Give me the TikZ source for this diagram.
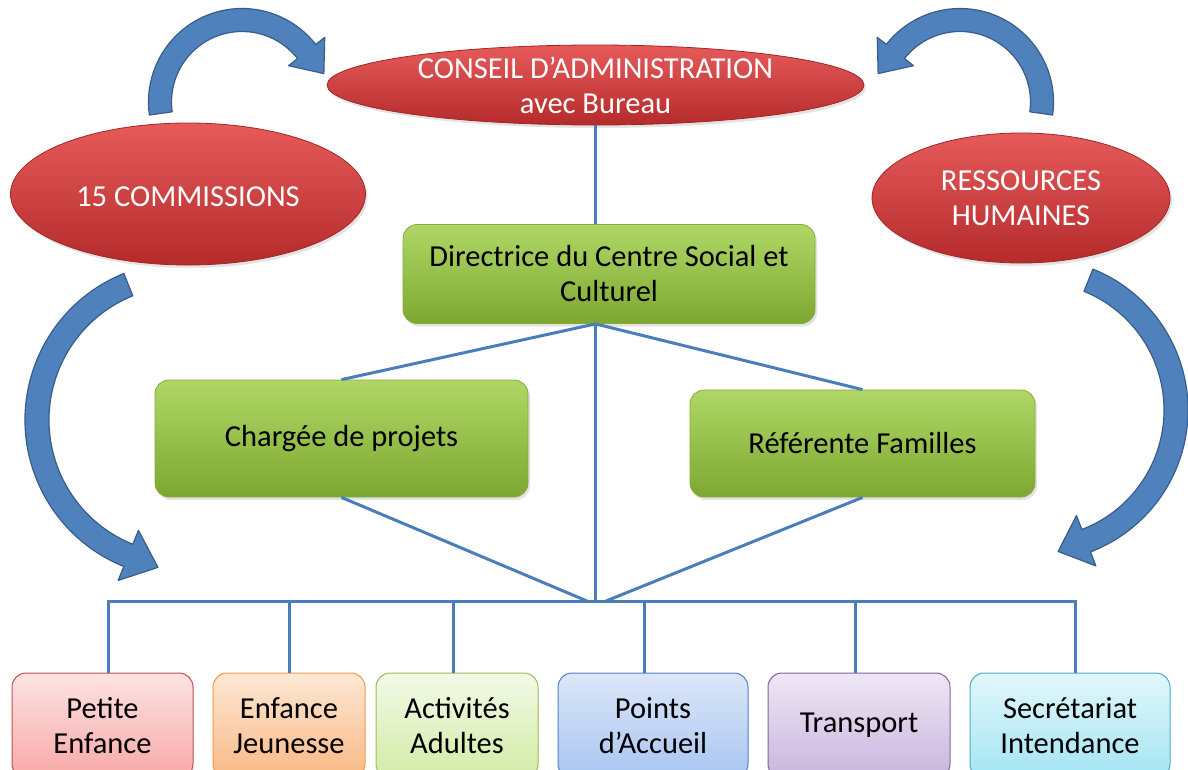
\documentclass[tikz,border=0pt]{standalone}
\usepackage{fontspec}
\setmainfont{Carlito}
\usetikzlibrary{shapes.geometric,shadows}
\definecolor{arrowblue}{HTML}{4F81BD}
\definecolor{arrowedge}{HTML}{385D8A}
\definecolor{linkblue}{HTML}{4A7EBB}
\definecolor{redtop}{HTML}{E65A5A}
\definecolor{redbot}{HTML}{B52B2B}
\definecolor{rededge}{HTML}{A52525}
\definecolor{greentop}{HTML}{B0D766}
\definecolor{greenbot}{HTML}{7DA830}
\definecolor{greenedge}{HTML}{86A93C}
\definecolor{pinktop}{HTML}{FDE3E3}\definecolor{pinkbot}{HTML}{F8A8A8}\definecolor{pinkedge}{HTML}{C0504D}
\definecolor{orgtop}{HTML}{FDE8D6}\definecolor{orgbot}{HTML}{F9B884}\definecolor{orgedge}{HTML}{F79646}
\definecolor{lgtop}{HTML}{F3FAE7}\definecolor{lgbot}{HTML}{D3EBA6}\definecolor{lgedge}{HTML}{9BBB59}
\definecolor{bltop}{HTML}{DCE7F9}\definecolor{blbot}{HTML}{A9C5F1}\definecolor{bledge}{HTML}{4F81BD}
\definecolor{pptop}{HTML}{EEE7F5}\definecolor{ppbot}{HTML}{C9B5DD}\definecolor{ppedge}{HTML}{8064A2}
\definecolor{cytop}{HTML}{E2F7FB}\definecolor{cybot}{HTML}{A3E5F3}\definecolor{cyedge}{HTML}{4BACC6}
\tikzset{
  softshadow/.style={drop shadow={opacity=0.22, shadow xshift=2pt, shadow yshift=-3pt}},
  bigfont/.style={font=\fontsize{30.5}{35}\selectfont},
  redell/.style={ellipse, draw=rededge, line width=0.8pt, top color=redtop, bottom color=redbot, inner sep=0pt, softshadow},
  whitetext/.style={text=white, align=center, bigfont, inner sep=0pt},
  greenbox/.style={rectangle, rounded corners=14, draw=greenedge, line width=0.8pt, top color=greentop, bottom color=greenbot, align=center, bigfont, inner sep=0pt, softshadow},
  unitbox/.style={rectangle, rounded corners=14, line width=1pt, align=center, bigfont, inner sep=0pt, minimum height=105},
  link/.style={draw=linkblue, line width=3pt},
  bendfill/.style={fill=arrowblue, draw=arrowedge, line width=1.2pt, line join=round}
}
% curved block arrow: cx, cy, r, half band, start angle, end angle, head half width, head length
\newcommand\bendarrow[8]{%
  \pgfmathsetmacro\ArO{#3+#4}%
  \pgfmathsetmacro\ArI{#3-#4}%
  \pgfmathsetmacro\ArHo{#3+#7}%
  \pgfmathsetmacro\ArHi{#3-#7}%
  \pgfmathsetmacro\ArSg{ifthenelse(#6>#5,1,-1)}%
  \pgfmathsetmacro\ArTx{#1+#3*cos(#6)-\ArSg*#8*sin(#6)}%
  \pgfmathsetmacro\ArTy{#2+#3*sin(#6)+\ArSg*#8*cos(#6)}%
  \path[bendfill] ([shift={(#5:\ArO)}]#1,#2) arc[start angle=#5, end angle=#6, radius=\ArO]
    -- ([shift={(#6:\ArHo)}]#1,#2) -- (\ArTx,\ArTy) -- ([shift={(#6:\ArHi)}]#1,#2)
    -- ([shift={(#6:\ArI)}]#1,#2) arc[start angle=#6, end angle=#5, radius=\ArI] -- cycle;%
}
\begin{document}
\begin{tikzpicture}[x=1pt,y=-1pt]
\useasboundingbox (0,0) rectangle (1188,769);
\clip (0,0) rectangle (1188,769);

% curved arrows
\bendarrow{242}{102}{82}{11.5}{172}{322}{23}{28}
\bendarrow{960}{102}{82}{11.5}{8}{-142}{23}{28}
\bendarrow{183}{420}{146}{12}{248}{112}{27}{32}
\bendarrow{1036}{410}{140}{12}{292}{429}{27}{30}

% ellipses
\node[redell, minimum width=537, minimum height=80] (ca) at (595.5,85) {};
\node[whitetext] (catext) at (ca) {CONSEIL D’ADMINISTRATION\\avec Bureau};
\node[redell, minimum width=355, minimum height=142] (com) at (188,194) {};
\node[whitetext] (comtext) at ([yshift=-3pt]com.center) {15 COMMISSIONS};
\node[redell, minimum width=298, minimum height=130] (rh) at (1021,198) {};
\node[whitetext] (rhtext) at (rh) {RESSOURCES\\HUMAINES};

% green boxes
\node[greenbox, minimum width=412, minimum height=99] (dir) at (609,274) {Directrice du Centre Social et\\Culturel};
\node[greenbox, minimum width=373, minimum height=117] (cp) at (341.5,438.5) {Chargée de projets};
\node[greenbox, minimum width=345, minimum height=107] (rf) at (862.5,443.5) {Référente Familles};

% bottom boxes
\node[unitbox, draw=pinkedge, top color=pinktop, bottom color=pinkbot, minimum width=181] (pe) at (102.5,725.5) {Petite\\Enfance};
\node[unitbox, draw=orgedge, top color=orgtop, bottom color=orgbot, minimum width=152] (ej) at (289,725.5) {Enfance\\Jeunesse};
\node[unitbox, draw=lgedge, top color=lgtop, bottom color=lgbot, minimum width=162] (aa) at (457,725.5) {Activités\\Adultes};
\node[unitbox, draw=bledge, top color=bltop, bottom color=blbot, minimum width=190] (pa) at (653,725.5) {Points\\d’Accueil};
\node[unitbox, draw=ppedge, top color=pptop, bottom color=ppbot, minimum width=182] (tr) at (859,725.5) {Transport};
\node[unitbox, draw=cyedge, top color=cytop, bottom color=cybot, minimum width=200] (si) at (1070,725.5) {Secrétariat\\Intendance};

% connectors
\coordinate (dirb) at (ca.south |- dir.south);
\coordinate (d1) at (108,601);
\coordinate (d2) at (289,601);
\coordinate (d3) at (453,601);
\coordinate (d4) at (644,601);
\coordinate (d5) at (855,601);
\coordinate (d6) at (1075,601);
\coordinate (vL) at (587,601);
\coordinate (vR) at (606,601);
\draw[link] (ca.south) -- (ca.south |- dir.north);
\draw[link] (dirb) -- (dirb |- d1);
\draw[link] (dirb) -- (cp.north);
\draw[link] (dirb) -- (rf.north);
\draw[link] (cp.south) -- (vL);
\draw[link] (rf.south) -- (vR);
\draw[link] (d1 |- pe.north) -- (d1) -- (d6) -- (d6 |- si.north);
\draw[link] (d2) -- (d2 |- ej.north);
\draw[link] (d3) -- (d3 |- aa.north);
\draw[link] (d4) -- (d4 |- pa.north);
\draw[link] (d5) -- (d5 |- tr.north);
\end{tikzpicture}
\end{document}
